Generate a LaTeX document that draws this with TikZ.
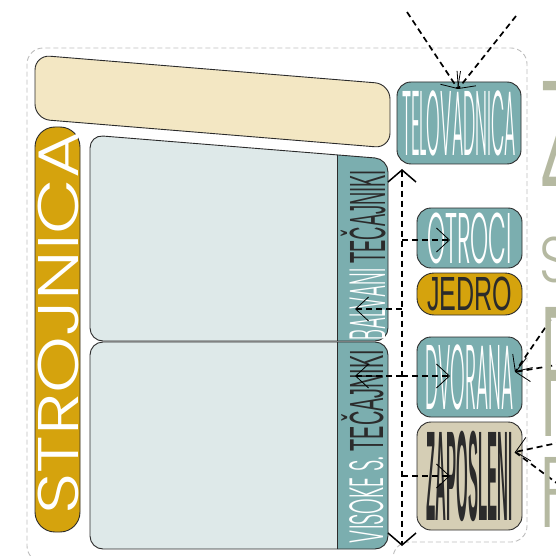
\documentclass[tikz,border=0pt]{standalone}
\usepackage{fontspec}
\setmainfont{Liberation Sans}
\IfFontExistsTF{Poppins Light}{\newfontfamily\geo{Poppins Light}}{\newfontfamily\geo{Poppins}}
\newfontfamily\heavy{Liberation Sans}[UprightFont=*-Bold]
\usetikzlibrary{arrows.meta}
\definecolor{tealc}{HTML}{7BAEAF}
\definecolor{goldc}{HTML}{D5A30D}
\definecolor{creamc}{HTML}{F3E7C3}
\definecolor{palec}{HTML}{DEE9E9}
\definecolor{beigec}{HTML}{D5CEB5}
\definecolor{olivec}{HTML}{B5B9A1}
\definecolor{inkc}{HTML}{2B2B2B}
\definecolor{dashgrey}{HTML}{BDBDBD}
\newcommand\fitt[3]{\resizebox{#1pt}{#2pt}{\vphantom{T}\smash{#3}}}
\begin{document}
\begin{tikzpicture}[x=1pt,y=-1pt,
  box/.style={draw=inkc, line width=0.9pt, rounded corners=14pt, inner sep=0pt},
  dsh/.style={draw=black, line width=1.7pt, dash pattern=on 6pt off 4pt},
  htip/.tip={Straight Barb[length=13pt,width=24pt,line width=0.8pt]},
  vtip/.tip={Straight Barb[length=12pt,width=28pt,line width=1.5pt]},
  txt/.style={inner sep=0pt}]
\useasboundingbox (0,0) rectangle (556,556);
\clip (0,0) rectangle (556,556);

% outer dashed frame
\draw[dashgrey, line width=0.9pt, dash pattern=on 5pt off 3pt, rounded corners=16pt]
  (393,570) -- (393,542) -- (527,542) -- (527,48) -- (27,48) -- (27,562) -- (70,562);

% cream slanted panel
\draw[inkc, line width=0.9pt, fill=creamc, rounded corners=15pt]
  (35,90) -- (35,55) -- (390,84) -- (390,148) -- (35,119) -- cycle;

% upper panel
\fill[palec, rounded corners=13pt] (90,240) -- (90,135) -- (388,159) -- (388,341) -- (90,341) -- cycle;
\begin{scope}
  \clip[rounded corners=13pt] (90,240) -- (90,135) -- (388,159) -- (388,341) -- (90,341) -- cycle;
  \fill[tealc] (337,100) rectangle (400,345);
\end{scope}
\draw[inkc, line width=0.9pt] (337,155) -- (337,341);
\draw[inkc, line width=0.9pt, rounded corners=13pt] (90,240) -- (90,135) -- (388,159) -- (388,341) -- (90,341) -- cycle;

% lower panel
\fill[palec, rounded corners=13pt] (90,445) -- (90,342) -- (388,342) -- (388,549) -- (90,549) -- cycle;
\begin{scope}
  \clip[rounded corners=13pt] (90,445) -- (90,342) -- (388,342) -- (388,549) -- (90,549) -- cycle;
  \fill[tealc] (337,330) rectangle (400,560);
\end{scope}
\draw[inkc, line width=0.9pt] (337,342) -- (337,549);
\draw[inkc, line width=0.9pt, rounded corners=13pt] (90,445) -- (90,342) -- (388,342) -- (388,549) -- (90,549) -- cycle;

% column labels
\node[txt, rotate=90] (balvani) at (367.5,255)
  {\fitt{170}{35}{{\geo\color{white}BALVANI} {\color{inkc}TEČAJNIKI}}};
\node[txt, rotate=90] (visoke) at (366.5,446.5)
  {\fitt{193}{33}{{\geo\color{white}VISOKE S.} {\color{inkc}TEČAJNIKI}}};

% STROJNICA pill
\node[box, fill=goldc, rounded corners=20pt, minimum width=45pt, minimum height=405pt] (strojnica) at (57.5,329.5) {};
\node[txt, rotate=90] (strojtext) at (58,323) {\color{white}\geo\fitt{383}{40}{STROJNICA}};

% right column boxes
\node[box, fill=tealc, minimum width=124pt, minimum height=82pt] (telo) at (459,123)
  {\color{white}\geo\fitt{114}{64}{TELOVADNICA}};
\node[box, fill=tealc, minimum width=105pt, minimum height=60pt] (otroci) at (469.5,238)
  {\color{white}\geo\fitt{85}{50}{OTROCI}};
\node[box, fill=goldc, rounded corners=17pt, minimum width=105pt, minimum height=42pt] (jedro) at (469.5,294)
  {\color{inkc}\fitt{85}{33}{JEDRO}};
\node[box, fill=tealc, minimum width=105pt, minimum height=80pt] (dvorana) at (469.5,377)
  {\color{white}\geo\fitt{88}{64}{DVORANA}};
\node[box, fill=beigec, minimum width=105pt, minimum height=108pt] (zaposleni) at (469.5,476)
  {\color{inkc}\heavy\fitt{86}{88}{ZAPOSLENI}};

% vertical double arrow
\coordinate (vtop) at (402,169);
\coordinate (vbot) at (402,546);
\draw[dsh, vtip-vtip] (vtop) -- (vbot);

% horizontal arrows
\coordinate (h1) at (402,240);  \coordinate (otrociIn) at (450,240);
\coordinate (h2) at (402,309);  \coordinate (balvaniIn) at (355,309);
\coordinate (h3) at (402,376);  \coordinate (visokeIn) at (355,376); \coordinate (dvoranaIn) at (450,376);
\coordinate (h4) at (402,476);  \coordinate (zaposleniIn) at (450,476);
\draw[dsh, -htip] (h1) -- (otrociIn);
\draw[dsh, -htip] (h2) -- (balvaniIn);
\draw[dsh, -htip] (h3) -- (visokeIn);
\draw[dsh, -htip] (h3) -- (dvoranaIn);
\draw[dsh, -htip] (h4) -- (zaposleniIn);

% outside connectors
\coordinate (e1) at (407,12); \coordinate (e2) at (516,16); \coordinate (teloIn) at (458,89);
\draw[dsh, -htip] (e1) -- (teloIn);
\draw[dsh, -htip] (e2) -- (teloIn);
\coordinate (e3) at (562,303); \coordinate (e4) at (562,364); \coordinate (dvOut) at (515,372);
\draw[dsh, -htip] (e3) -- (dvOut);
\draw[dsh, -htip] (e4) -- (dvOut);
\coordinate (e5) at (562,442); \coordinate (e6) at (562,487); \coordinate (zpOut) at (515,452);
\draw[dsh, -htip] (e5) -- (zpOut);
\draw[dsh] (zpOut) -- (e6);

% large grey letters at the right edge (cut off)
\node[txt, anchor=south west, text=olivec] (lz) at (539,187) {\geo\fitt{42}{105}{Z}};
\node[txt, anchor=south west, text=olivec] (ls) at (539,283) {\geo\fitt{30}{45}{S}};
\node[txt, anchor=south west, text=olivec] (lp) at (539,437) {\geo\fitt{45}{129}{P}};
\node[txt, anchor=south west, text=olivec] (lf) at (539,528) {\geo\fitt{35}{70}{F}};
\end{tikzpicture}
\end{document}
